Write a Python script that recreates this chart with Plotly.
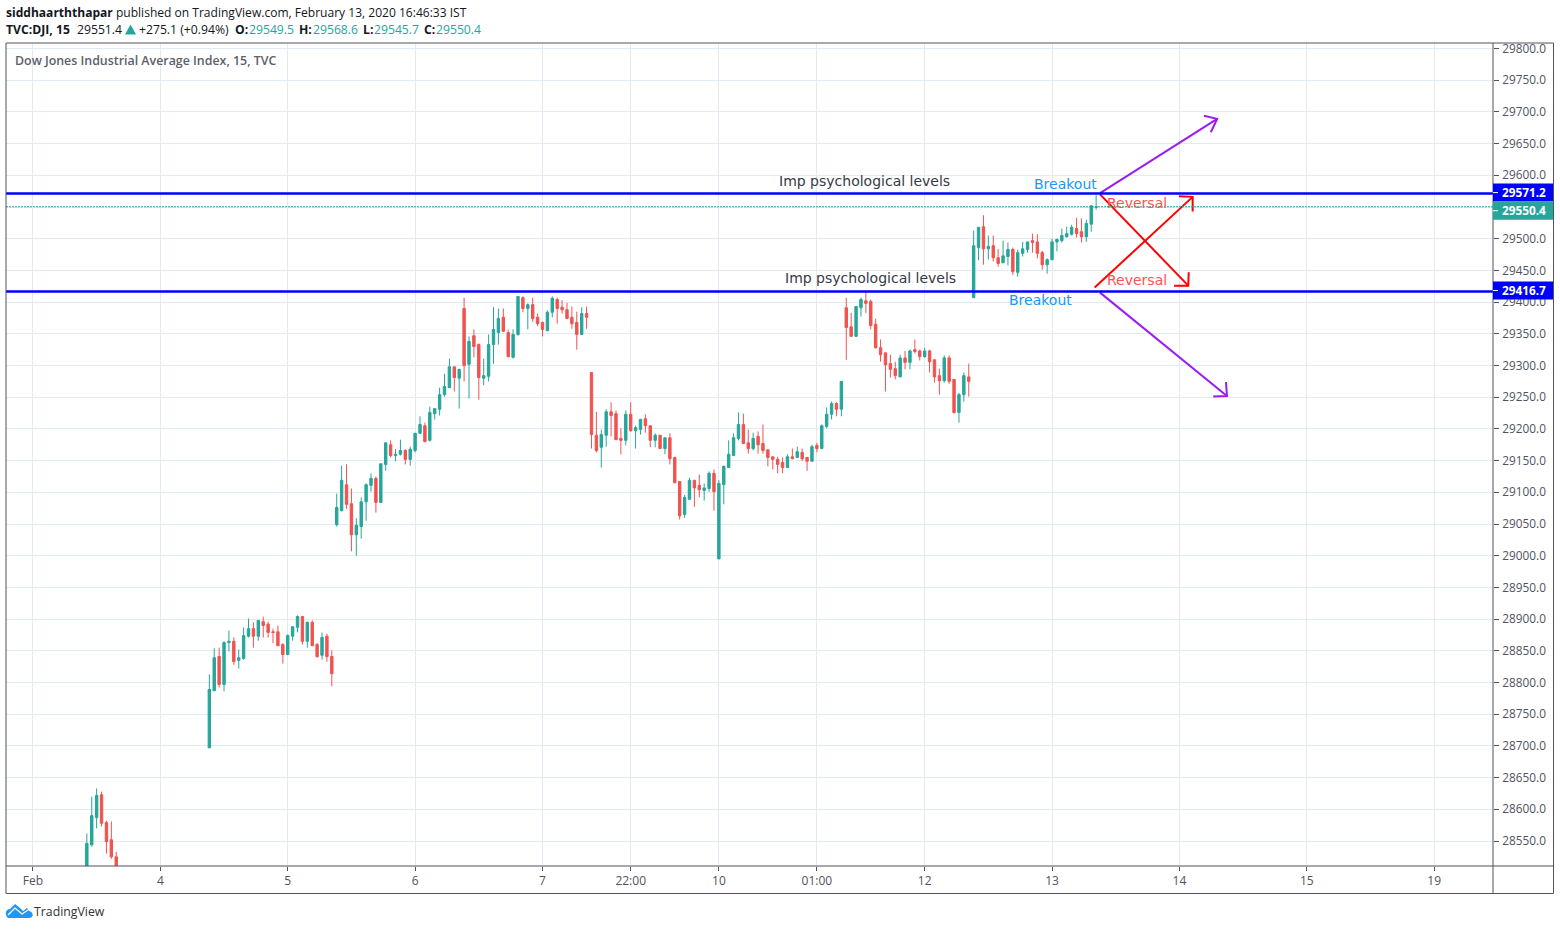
import plotly.graph_objects as go

# bar number: 26 bars of 15 minutes per session, 0 is the "Feb" tick
bar_index = list(range(11, 18)) + list(range(36, 218))

opens = [28490, 28544, 28587, 28623, 28579, 28552, 28525,
         28697, 28787, 28841, 28797, 28863, 28865, 28835, 28838, 28873, 28885, 28873, 28896, 28892, 28880, 28880, 28860, 28844, 28873, 28887, 28904, 28865, 28895, 28860, 28843, 28873, 28841,
         29049, 29071, 29112, 29082, 29033, 29046, 29085, 29111, 29122, 29084, 29144, 29175, 29158, 29160, 29166, 29152, 29166, 29193, 29205, 29182, 29224, 29231, 29254, 29265, 29298, 29280, 29390, 29302, 29347, 29333, 29280, 29283, 29333, 29352, 29376, 29352, 29313, 29349, 29407, 29390, 29396, 29376, 29368, 29355, 29384, 29404, 29392, 29388, 29376, 29368, 29349, 29382,
         29289, 29190, 29171, 29190, 29227, 29224, 29185, 29182, 29223, 29197, 29199, 29216, 29205, 29182, 29190, 29169, 29186, 29155, 29117, 29065, 29089, 29119, 29111, 29103, 29106, 29130, 28995, 29112, 29139, 29158, 29185, 29207, 29178, 29169, 29188, 29177, 29167, 29156, 29152, 29147, 29139, 29156, 29155, 29163, 29155, 29149, 29174, 29169, 29204, 29223, 29240, 29231,
         29391, 29361, 29346, 29391, 29402, 29401, 29365, 29328, 29320, 29303, 29295, 29282, 29312, 29305, 29325, 29323, 29314, 29323, 29309, 29284, 29276, 29312, 29278, 29226, 29254, 29282,
         29407, 29486, 29519, 29484, 29489, 29470, 29462, 29472, 29483, 29447, 29477, 29483, 29497, 29495, 29478, 29459, 29467, 29495, 29497, 29503, 29507, 29516, 29511, 29503, 29523, 29549.5]
highs = [28562, 28620, 28633, 28628, 28582, 28581, 28533,
         28813, 28854, 28855, 28865, 28882, 28871, 28852, 28887, 28901, 28895, 28898, 28904, 28896, 28885, 28890, 28862, 28876, 28888, 28906, 28904, 28896, 28898, 28862, 28879, 28877, 28851,
         29098, 29142, 29144, 29106, 29059, 29092, 29114, 29130, 29125, 29145, 29179, 29182, 29168, 29183, 29168, 29172, 29194, 29220, 29210, 29235, 29232, 29265, 29287, 29311, 29298, 29294, 29407, 29346, 29357, 29335, 29311, 29349, 29392, 29390, 29390, 29357, 29357, 29409, 29409, 29398, 29407, 29382, 29369, 29387, 29409, 29407, 29403, 29399, 29393, 29385, 29392, 29393,
         29289, 29227, 29199, 29231, 29242, 29229, 29201, 29229, 29242, 29205, 29216, 29223, 29205, 29193, 29190, 29186, 29193, 29156, 29117, 29096, 29123, 29119, 29128, 29114, 29133, 29136, 29119, 29142, 29182, 29193, 29226, 29224, 29199, 29194, 29196, 29207, 29167, 29156, 29156, 29155, 29160, 29169, 29172, 29169, 29155, 29175, 29178, 29207, 29234, 29243, 29242, 29275,
         29407, 29383, 29394, 29407, 29417, 29404, 29374, 29341, 29320, 29317, 29306, 29317, 29323, 29325, 29341, 29325, 29328, 29325, 29309, 29295, 29316, 29316, 29278, 29257, 29289, 29303,
         29513, 29518, 29537, 29505, 29505, 29484, 29497, 29494, 29486, 29483, 29495, 29495, 29508, 29507, 29481, 29469, 29500, 29500, 29516, 29519, 29522, 29533, 29532, 29530, 29552, 29568.6]
lows = [28480, 28541, 28570, 28573, 28530, 28522, 28485,
        28697, 28787, 28792, 28786, 28849, 28828, 28822, 28836, 28871, 28855, 28866, 28871, 28871, 28862, 28858, 28830, 28844, 28866, 28879, 28860, 28855, 28858, 28839, 28836, 28833, 28794,
        29046, 29070, 29074, 29007, 29000, 29027, 29055, 29101, 29068, 29084, 29134, 29155, 29149, 29158, 29144, 29142, 29163, 29193, 29179, 29180, 29215, 29221, 29251, 29265, 29259, 29232, 29275, 29248, 29313, 29246, 29269, 29275, 29303, 29333, 29354, 29313, 29311, 29347, 29384, 29357, 29369, 29362, 29346, 29354, 29376, 29366, 29382, 29374, 29358, 29325, 29349, 29358,
        29169, 29163, 29139, 29172, 29188, 29183, 29160, 29174, 29196, 29169, 29191, 29194, 29171, 29171, 29169, 29160, 29144, 29115, 29057, 29060, 29089, 29077, 29092, 29087, 29101, 29071, 28995, 29081, 29139, 29158, 29182, 29177, 29161, 29166, 29161, 29161, 29141, 29136, 29130, 29130, 29139, 29152, 29155, 29149, 29134, 29149, 29163, 29169, 29201, 29215, 29220, 29220,
        29309, 29346, 29346, 29377, 29383, 29357, 29327, 29306, 29259, 29281, 29278, 29282, 29294, 29294, 29319, 29308, 29312, 29289, 29273, 29254, 29273, 29271, 29224, 29210, 29243, 29251,
        29407, 29466, 29459, 29467, 29464, 29456, 29462, 29458, 29443, 29440, 29472, 29478, 29478, 29469, 29451, 29445, 29466, 29480, 29494, 29502, 29505, 29502, 29494, 29495, 29511, 29545.7]
closes = [28546, 28590, 28622, 28578, 28549, 28525, 28495,
          28789, 28839, 28797, 28863, 28865, 28833, 28839, 28874, 28885, 28873, 28898, 28890, 28879, 28879, 28858, 28844, 28874, 28888, 28904, 28865, 28895, 28858, 28841, 28871, 28841, 28814,
          29076, 29119, 29081, 29033, 29048, 29085, 29112, 29122, 29084, 29145, 29178, 29158, 29160, 29166, 29152, 29168, 29193, 29207, 29180, 29226, 29232, 29254, 29267, 29298, 29281, 29294, 29300, 29338, 29330, 29281, 29284, 29333, 29357, 29374, 29354, 29314, 29349, 29409, 29390, 29396, 29374, 29366, 29357, 29384, 29406, 29390, 29388, 29374, 29366, 29349, 29382, 29376,
          29191, 29166, 29191, 29227, 29221, 29183, 29182, 29223, 29197, 29202, 29215, 29205, 29182, 29190, 29169, 29186, 29153, 29115, 29063, 29092, 29119, 29107, 29104, 29107, 29130, 29101, 29114, 29141, 29160, 29186, 29207, 29177, 29169, 29185, 29175, 29166, 29155, 29152, 29144, 29139, 29156, 29153, 29164, 29153, 29149, 29172, 29169, 29205, 29223, 29240, 29231, 29275,
          29360, 29346, 29393, 29404, 29398, 29363, 29328, 29317, 29301, 29294, 29284, 29312, 29305, 29323, 29322, 29314, 29323, 29306, 29282, 29276, 29312, 29275, 29226, 29254, 29284, 29275,
          29489, 29518, 29484, 29488, 29470, 29461, 29473, 29483, 29448, 29478, 29484, 29495, 29494, 29477, 29459, 29467, 29495, 29499, 29505, 29508, 29518, 29508, 29503, 29524, 29552, 29550.4]

x_tick_vals = [0, 26, 52, 78, 104, 122, 140, 160, 182, 208, 234, 260, 286]
x_tick_text = ["Feb", "4", "5", "6", "7", "22:00", "10", "01:00", "12", "13", "14", "15", "19"]
y_tick_vals = list(range(28550, 29801, 50))

level_values = [29571.2, 29416.7]
last_price = 29550.4

# hand drawn arrows, each one is shaft then head
purple_x = [217.8, 241.7, None, 239, 241.7, 240.4, None, 217.8, 243.7, None, 243.5, 243.7, 240.9]
purple_y = [29572, 29689, None, 29694, 29689, 29668, None, 29415, 29252, None, 29274, 29252, 29251]
red_x = [216.7, 236.7, None, 233.9, 236.7, 236.7, None, 217.8, 235.8, None, 232.9, 235.8, 235.9]
red_y = [29423, 29566, None, 29567, 29566, 29543, None, 29570, 29426, None, 29426, 29426, 29447]

note_text = ["Imp psychological levels", "Imp psychological levels", "Breakout", "Breakout", "Reversal", "Reversal"]
note_x = [151.9, 153.0, 204.0, 198.9, 218.9, 218.9]
note_y = [29590.4, 29437.4, 29587, 29404, 29557, 29434.4]
note_color = ["#363a45", "#363a45", "#2196f3", "#2196f3", "#ff5252", "#ff5252"]

UP = "#26a69a"
DOWN = "#ef5350"
GRID = "#e1ecf2"
AXIS = "#50535e"
TEXT = "#131722"
FONT = "Open Sans"

W, H = 1560, 930
LEFT, RIGHT, TOP, BOTTOM = 6, 1493, 43, 866


def px(x):
    return (x - LEFT) / (RIGHT - LEFT)


def py(y):
    return (BOTTOM - y) / (BOTTOM - TOP)


fig = go.Figure()

fig.add_trace(go.Candlestick(
    x=bar_index, open=opens, high=highs, low=lows, close=closes,
    increasing=dict(line=dict(color=UP, width=1), fillcolor=UP),
    decreasing=dict(line=dict(color=DOWN, width=1), fillcolor=DOWN),
    showlegend=False,
))
fig.add_trace(go.Scatter(x=red_x, y=red_y, mode="lines", line=dict(color="#ff0000", width=2), showlegend=False, hoverinfo="skip"))
fig.add_trace(go.Scatter(x=purple_x, y=purple_y, mode="lines", line=dict(color="#9a1cf2", width=2), showlegend=False, hoverinfo="skip"))

# level lines and last price line
for v in level_values:
    fig.add_shape(type="line", xref="paper", yref="y", x0=0, x1=1, y0=v, y1=v, line=dict(color="#0000ff", width=2.5))
fig.add_shape(type="line", xref="paper", yref="y", x0=0, x1=1, y0=last_price, y1=last_price,
              line=dict(color=UP, width=1.2, dash="2px,1px"))

# frame round the chart and the axis panes
frame = dict(color=AXIS, width=1)
fig.add_shape(type="rect", xref="paper", yref="paper", x0=0, x1=px(1553.5), y0=py(893.5), y1=1, line=frame)
fig.add_shape(type="line", xref="paper", yref="paper", x0=0, x1=px(1553.5), y0=0, y1=0, line=frame)
fig.add_shape(type="line", xref="paper", yref="paper", x0=1, x1=1, y0=py(893.5), y1=1, line=frame)

# TradingView cloud
cloud = "M {} {} C {} {} {} {} {} {} L {} {} L {} {} L {} {} L {} {} L {} {} C {} {} {} {} {} {} Z".format(
    px(8), py(918), px(4), py(914), px(6), py(909), px(10), py(909),
    px(15), py(904), px(20), py(908), px(23), py(911), px(27), py(908), px(29), py(911),
    px(34), py(912), px(34), py(918), px(29), py(918))
fig.add_shape(type="path", xref="paper", yref="paper", path=cloud, fillcolor="#2196f3", line=dict(width=0))
fig.add_shape(type="path", xref="paper", yref="paper",
              path="M {} {} L {} {} L {} {} L {} {}".format(px(8), py(915), px(15), py(908), px(22), py(914), px(28), py(910)),
              line=dict(color="white", width=1.2))

# little up triangle in the header
fig.add_shape(type="path", xref="paper", yref="paper", fillcolor=UP, line=dict(width=0),
              path="M {} {} L {} {} L {} {} Z".format(px(125), py(34.5), px(136), py(34.5), px(130.5), py(24.5)))

for t, x, y, c in zip(note_text, note_x, note_y, note_color):
    fig.add_annotation(text=t, x=x, y=y, xref="x", yref="y", xanchor="left", yanchor="middle", showarrow=False,
                       font=dict(family="DejaVu Sans", size=14, color=c))

# price labels on the right axis, the last price one is pushed down to clear the level above it
for v, c, shift in [(level_values[0], "#0000ff", 1), (last_price, UP, -4), (level_values[1], "#0000ff", 1)]:
    fig.add_shape(type="rect", xref="paper", yref="y", ysizemode="pixel", yanchor=v, x0=1, x1=px(1553),
                  y0=shift - 9, y1=shift + 9, fillcolor=c, line=dict(width=0))
    fig.add_shape(type="line", xref="paper", yref="y", ysizemode="pixel", yanchor=v, x0=1, x1=px(1498),
                  y0=shift, y1=shift, line=dict(color="white", width=1))
    fig.add_annotation(text="<b>%.1f</b>" % v, x=1, y=v, xref="paper", yref="y", xanchor="left", yanchor="middle",
                       xshift=7, yshift=shift + 1, showarrow=False,
                       font=dict(family=FONT, size=11.8, color="white"))


def head(text, x, y, size=12, color=TEXT, weight=400):
    fig.add_annotation(text=text, x=px(x), y=py(y), xref="paper", yref="paper", xanchor="left", yanchor="middle",
                       showarrow=False, font=dict(family=FONT, size=size, color=color, weight=weight))


head("<b>siddhaarththapar</b> published on TradingView.com, February 13, 2020 16:46:33 IST", 4, 12.5, size=12.05)

# second header line, one piece at a time so the gaps stay as published
head_text = ["TVC:DJI, 15", "29551.4", "+275.1 (+0.94%)", "O:", "29549.5", "H:", "29568.6", "L:", "29545.7", "C:", "29550.4"]
head_x = [4, 75, 137, 233, 247, 297, 311, 361, 372, 422, 434]
head_color = [TEXT, TEXT, TEXT, TEXT, UP, TEXT, UP, TEXT, UP, TEXT, UP]
head_weight = [700, 400, 400, 700, 400, 700, 400, 700, 400, 700, 400]
for t, x, c, w in zip(head_text, head_x, head_color, head_weight):
    head(t, x, 29, size=12.2, color=c, weight=w)

head("Dow Jones Industrial Average Index, 15, TVC", 13, 60, size=12.4, color="#5d606b", weight=600)
head("TradingView", 32, 911, size=12.3, color="#333333")

fig.update_layout(
    width=W, height=H,
    margin=dict(l=LEFT, r=W - RIGHT, t=TOP, b=H - BOTTOM, pad=0),
    paper_bgcolor="white", plot_bgcolor="white",
    font=dict(family=FONT, size=12, color=AXIS),
    showlegend=False,
    xaxis=dict(range=[-5.5, 298], rangeslider=dict(visible=False), tickmode="array", tickvals=x_tick_vals,
               ticktext=x_tick_text, showgrid=True, gridcolor=GRID, gridwidth=1, zeroline=False, ticks="outside",
               ticklen=4, tickcolor=AXIS, showline=False),
    yaxis=dict(range=[28510.6, 29808.7], side="right", tickmode="array", tickvals=y_tick_vals,
               ticktext=["%.1f" % v for v in y_tick_vals], showgrid=True, gridcolor=GRID, gridwidth=1, zeroline=False,
               ticks="outside", ticklen=5, tickcolor=AXIS, showline=False, tickfont=dict(size=11.8),
               ticklabelstandoff=1),
)

fig.write_html("out.html", config={"displayModeBar": False}, post_script="document.body.style.margin='0';")
